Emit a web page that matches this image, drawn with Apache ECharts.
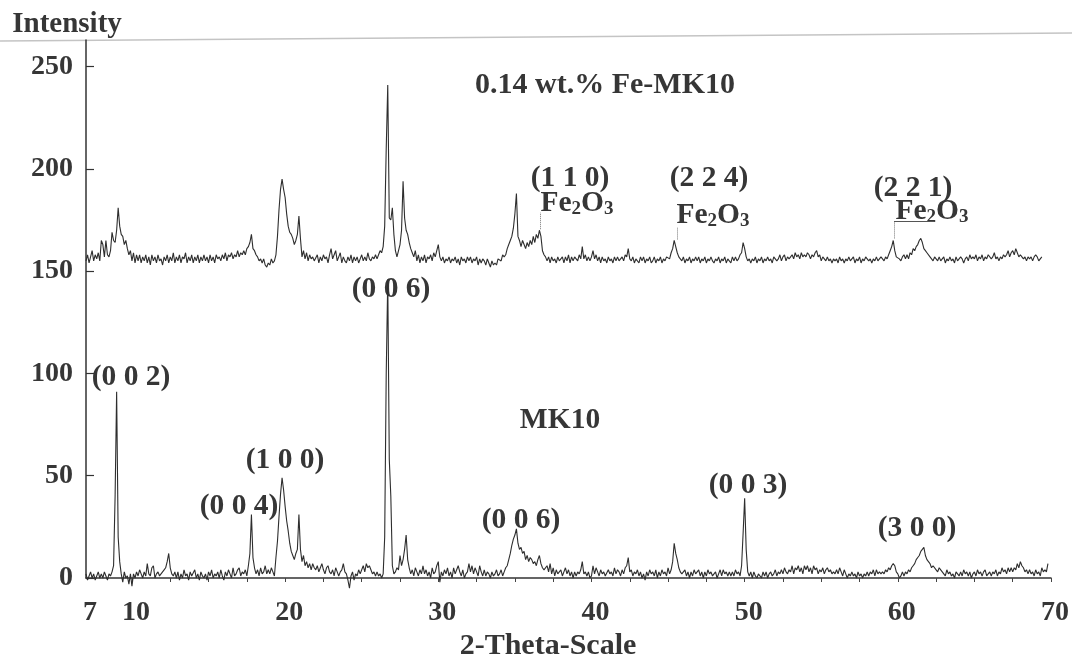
<!DOCTYPE html>
<html><head><meta charset="utf-8">
<script src="https://cdn.jsdelivr.net/npm/echarts@6/dist/echarts.min.js"></script>
<style>html,body{margin:0;padding:0;background:#fff}#c{width:1072px;height:661px}</style>
</head><body><div id="c"></div>
<script>
// 2-theta positions (degrees), one row per degree
const twoTheta = [
  7.0, 7.1, 7.2, 7.3, 7.4, 7.5, 7.6, 7.7, 7.8, 7.9,
  8.0, 8.1, 8.2, 8.3, 8.4, 8.5, 8.6, 8.7, 8.8, 8.9,
  9.0, 9.1, 9.2, 9.3, 9.4, 9.5, 9.6, 9.7, 9.8, 9.9,
  10.0, 10.1, 10.2, 10.3, 10.4, 10.5, 10.6, 10.7, 10.8, 10.9,
  11.0, 11.1, 11.2, 11.3, 11.4, 11.5, 11.6, 11.7, 11.8, 11.9,
  12.0, 12.1, 12.2, 12.3, 12.4, 12.5, 12.6, 12.7, 12.8, 12.9,
  13.0, 13.1, 13.2, 13.3, 13.4, 13.5, 13.6, 13.7, 13.8, 13.9,
  14.0, 14.1, 14.2, 14.3, 14.4, 14.5, 14.6, 14.7, 14.8, 14.9,
  15.0, 15.1, 15.2, 15.3, 15.4, 15.5, 15.6, 15.7, 15.8, 15.9,
  16.0, 16.1, 16.2, 16.3, 16.4, 16.5, 16.6, 16.7, 16.8, 16.9,
  17.0, 17.1, 17.2, 17.3, 17.4, 17.5, 17.6, 17.7, 17.8, 17.9,
  18.0, 18.1, 18.2, 18.3, 18.4, 18.5, 18.6, 18.7, 18.8, 18.9,
  19.0, 19.1, 19.2, 19.3, 19.4, 19.5, 19.6, 19.7, 19.8, 19.9,
  20.0, 20.1, 20.2, 20.3, 20.4, 20.5, 20.6, 20.7, 20.8, 20.9,
  21.0, 21.1, 21.2, 21.3, 21.4, 21.5, 21.6, 21.7, 21.8, 21.9,
  22.0, 22.1, 22.2, 22.3, 22.4, 22.5, 22.6, 22.7, 22.8, 22.9,
  23.0, 23.1, 23.2, 23.3, 23.4, 23.5, 23.6, 23.7, 23.8, 23.9,
  24.0, 24.1, 24.2, 24.3, 24.4, 24.5, 24.6, 24.7, 24.8, 24.9,
  25.0, 25.1, 25.2, 25.3, 25.4, 25.5, 25.6, 25.7, 25.8, 25.9,
  26.0, 26.1, 26.2, 26.3, 26.4, 26.5, 26.6, 26.7, 26.8, 26.9,
  27.0, 27.1, 27.2, 27.3, 27.4, 27.5, 27.6, 27.7, 27.8, 27.9,
  28.0, 28.1, 28.2, 28.3, 28.4, 28.5, 28.6, 28.7, 28.8, 28.9,
  29.0, 29.1, 29.2, 29.3, 29.4, 29.5, 29.6, 29.7, 29.8, 29.9,
  30.0, 30.1, 30.2, 30.3, 30.4, 30.5, 30.6, 30.7, 30.8, 30.9,
  31.0, 31.1, 31.2, 31.3, 31.4, 31.5, 31.6, 31.7, 31.8, 31.9,
  32.0, 32.1, 32.2, 32.3, 32.4, 32.5, 32.6, 32.7, 32.8, 32.9,
  33.0, 33.1, 33.2, 33.3, 33.4, 33.5, 33.6, 33.7, 33.8, 33.9,
  34.0, 34.1, 34.2, 34.3, 34.4, 34.5, 34.6, 34.7, 34.8, 34.9,
  35.0, 35.1, 35.2, 35.3, 35.4, 35.5, 35.6, 35.7, 35.8, 35.9,
  36.0, 36.1, 36.2, 36.3, 36.4, 36.5, 36.6, 36.7, 36.8, 36.9,
  37.0, 37.1, 37.2, 37.3, 37.4, 37.5, 37.6, 37.7, 37.8, 37.9,
  38.0, 38.1, 38.2, 38.3, 38.4, 38.5, 38.6, 38.7, 38.8, 38.9,
  39.0, 39.1, 39.2, 39.3, 39.4, 39.5, 39.6, 39.7, 39.8, 39.9,
  40.0, 40.1, 40.2, 40.3, 40.4, 40.5, 40.6, 40.7, 40.8, 40.9,
  41.0, 41.1, 41.2, 41.3, 41.4, 41.5, 41.6, 41.7, 41.8, 41.9,
  42.0, 42.1, 42.2, 42.3, 42.4, 42.5, 42.6, 42.7, 42.8, 42.9,
  43.0, 43.1, 43.2, 43.3, 43.4, 43.5, 43.6, 43.7, 43.8, 43.9,
  44.0, 44.1, 44.2, 44.3, 44.4, 44.5, 44.6, 44.7, 44.8, 44.9,
  45.0, 45.1, 45.2, 45.3, 45.4, 45.5, 45.6, 45.7, 45.8, 45.9,
  46.0, 46.1, 46.2, 46.3, 46.4, 46.5, 46.6, 46.7, 46.8, 46.9,
  47.0, 47.1, 47.2, 47.3, 47.4, 47.5, 47.6, 47.7, 47.8, 47.9,
  48.0, 48.1, 48.2, 48.3, 48.4, 48.5, 48.6, 48.7, 48.8, 48.9,
  49.0, 49.1, 49.2, 49.3, 49.4, 49.5, 49.6, 49.7, 49.8, 49.9,
  50.0, 50.1, 50.2, 50.3, 50.4, 50.5, 50.6, 50.7, 50.8, 50.9,
  51.0, 51.1, 51.2, 51.3, 51.4, 51.5, 51.6, 51.7, 51.8, 51.9,
  52.0, 52.1, 52.2, 52.3, 52.4, 52.5, 52.6, 52.7, 52.8, 52.9,
  53.0, 53.1, 53.2, 53.3, 53.4, 53.5, 53.6, 53.7, 53.8, 53.9,
  54.0, 54.1, 54.2, 54.3, 54.4, 54.5, 54.6, 54.7, 54.8, 54.9,
  55.0, 55.1, 55.2, 55.3, 55.4, 55.5, 55.6, 55.7, 55.8, 55.9,
  56.0, 56.1, 56.2, 56.3, 56.4, 56.5, 56.6, 56.7, 56.8, 56.9,
  57.0, 57.1, 57.2, 57.3, 57.4, 57.5, 57.6, 57.7, 57.8, 57.9,
  58.0, 58.1, 58.2, 58.3, 58.4, 58.5, 58.6, 58.7, 58.8, 58.9,
  59.0, 59.1, 59.2, 59.3, 59.4, 59.5, 59.6, 59.7, 59.8, 59.9,
  60.0, 60.1, 60.2, 60.3, 60.4, 60.5, 60.6, 60.7, 60.8, 60.9,
  61.0, 61.1, 61.2, 61.3, 61.4, 61.5, 61.6, 61.7, 61.8, 61.9,
  62.0, 62.1, 62.2, 62.3, 62.4, 62.5, 62.6, 62.7, 62.8, 62.9,
  63.0, 63.1, 63.2, 63.3, 63.4, 63.5, 63.6, 63.7, 63.8, 63.9,
  64.0, 64.1, 64.2, 64.3, 64.4, 64.5, 64.6, 64.7, 64.8, 64.9,
  65.0, 65.1, 65.2, 65.3, 65.4, 65.5, 65.6, 65.7, 65.8, 65.9,
  66.0, 66.1, 66.2, 66.3, 66.4, 66.5, 66.6, 66.7, 66.8, 66.9,
  67.0, 67.1, 67.2, 67.3, 67.4, 67.5, 67.6, 67.7, 67.8, 67.9,
  68.0, 68.1, 68.2, 68.3, 68.4, 68.5, 68.6, 68.7, 68.8, 68.9,
  69.0, 69.1, 69.2, 69.3, 69.4, 69.5, 69.6, 69.7, 69.8
];
// MK10 intensity, one row per degree
const mk10 = [
  2, -1, 1, 3, 0, 2, -1, 1, 3, 0,
  2, 0, 3, 1, -1, 2, 1, 3, 6, 40,
  91, 20, 8, 2, -2, 3, 0, 1, -3, 2,
  -4, 2, 0, 3, 1, 4, 2, 0, 3, 1,
  7, 2, 1, 5, 6, 0, 2, 3, 1, 2,
  2, 4, 5, 8, 12, 5, 2, 1, 3, 0,
  3, -1, 2, 0, 4, 1, 2, -1, 3, 1,
  1, 4, 0, 2, -1, 3, 1, 0, 2, -1,
  3, 1, 4, 0, 2, 1, 3, 0, 4, 1,
  -1, 3, 1, 4, 2, 0, 5, 1, 2, 4,
  5, 1, 3, 2, 4, 1, 6, 12, 31, 10,
  5, 2, 4, 1, 5, 2, 3, 6, 2, 4,
  2, 5, 3, 1, 10, 18, 30, 41, 49, 43,
  35, 28, 23, 17, 13, 11, 9, 12, 14, 31,
  14, 8, 11, 6, 8, 5, 7, 4, 7, 5,
  4, 6, 3, 5, 7, 4, 2, 5, 6, 3,
  2, 4, 1, 5, 3, 1, 3, 4, 7, 3,
  2, -1, -5, 1, 3, -1, 2, 1, 4, 2,
  4, 6, 3, 7, 5, 6, 4, 2, 3, 1,
  3, 1, 2, 0, 2, 20, 100, 146, 58, 40,
  6, 2, 3, 5, 4, 11, 6, 9, 14, 21,
  9, 5, 2, 4, 1, 5, 3, 1, 4, 2,
  6, 2, 4, 1, 3, 0, 5, 2, 3, 6,
  8, -2, 3, 1, 4, 2, 5, 1, 3, 0,
  5, 2, 4, 6, 3, 1, 4, 0, 2, 3,
  7, 3, 6, 2, 5, 3, 1, 6, 3, 1,
  4, 1, 3, 2, 0, 3, 1, 2, 4, 1,
  2, 4, 1, 3, 5, 6, 9, 12, 16, 19,
  21, 24, 17, 14, 15, 12, 13, 9, 11, 8,
  10, 9, 7, 8, 6, 9, 11, 7, 5, 4,
  4, 6, 3, 7, 2, 5, 1, 4, 2, 3,
  4, 1, 3, 5, 2, 4, 1, 3, 0, 3,
  1, 3, 2, 4, 8, 2, 3, 1, 3, 0,
  1, 6, 2, 5, 3, 1, 4, 2, 3, 1,
  1, 4, 2, 3, 1, 5, 2, 4, 3, 1,
  4, 2, 5, 6, 10, 3, 4, 1, 3, 2,
  4, 1, 3, 0, 2, -1, 3, 1, 4, 2,
  3, 1, 4, 0, 3, 1, 4, 2, 3, 1,
  5, 2, 4, 8, 17, 12, 9, 5, 3, 2,
  2, 4, 1, 3, 0, 3, 1, 4, 2, 3,
  4, 1, 3, 0, 3, 1, 4, 2, 3, 1,
  1, 3, 0, 2, 4, 1, 4, 2, 3, 1,
  3, 1, 3, 1, 4, 2, 3, 1, 6, 22,
  39, 14, 3, 1, 3, 0, 3, 1, 0, 2,
  2, 0, 3, 1, 3, 0, 2, 3, 1, 2,
  4, 1, 3, 2, 4, 2, 5, 3, 2, 4,
  3, 6, 2, 5, 4, 6, 3, 5, 2, 6,
  4, 6, 3, 5, 2, 6, 4, 5, 2, 4,
  3, 5, 2, 4, 5, 3, 4, 2, 3, 2,
  4, 2, 5, 3, 1, 4, 2, 0, 2, 1,
  3, 1, 2, 0, 3, 1, 2, 0, 2, 1,
  3, 1, 3, 2, 4, 1, 4, 2, 3, 2,
  3, 2, 4, 3, 5, 4, 6, 7, 6, 3,
  2, 0, 1, 3, 1, 3, 2, 4, 3, 5,
  6, 7, 9, 10, 11, 13, 14, 15, 11, 9,
  8, 7, 5, 6, 6, 4, 3, 5, 4, 3,
  3, 1, 4, 2, 3, 1, 2, 0, 3, 2,
  1, 3, 1, 4, 2, 3, 1, 3, 0, 2,
  3, 1, 4, 2, 3, 1, 3, 4, 1, 2,
  3, 1, 3, 2, 4, 1, 3, 2, 5, 3,
  4, 2, 5, 3, 5, 3, 5, 4, 7, 5,
  8, 6, 5, 3, 4, 2, 4, 2, 3, 1,
  4, 2, 3, 1, 5, 3, 4, 3, 7
];
// 0.14 wt.% Fe-MK10 intensity (offset trace as plotted), one row per degree
const feMk10 = [
  155, 158, 154, 157, 160, 155, 158, 156, 159, 155,
  165, 163, 157, 165, 158, 157, 160, 169, 165, 164,
  170, 181, 172, 168, 167, 163, 165, 161, 158, 160,
  155, 159, 154, 158, 155, 158, 154, 157, 155, 158,
  154, 157, 153, 158, 155, 157, 154, 158, 155, 156,
  153, 157, 155, 158, 154, 157, 155, 159, 154, 157,
  155, 158, 154, 157, 156, 159, 154, 157, 155, 158,
  154, 157, 155, 158, 154, 157, 155, 158, 155, 157,
  154, 158, 155, 157, 154, 158, 156, 157, 155, 158,
  156, 159, 155, 158, 157, 159, 156, 158, 157, 160,
  157, 159, 158, 160, 158, 161, 162, 164, 168, 161,
  160, 158, 157, 155, 156, 154, 156, 153, 152, 154,
  153, 156, 154, 155, 158, 167, 180, 190, 195, 190,
  186, 178, 172, 169, 168, 166, 163, 165, 168, 177,
  166, 157, 160, 156, 159, 155, 158, 156, 157, 155,
  155, 158, 154, 157, 155, 158, 156, 157, 154, 158,
  161, 156, 158, 160, 155, 157, 159, 154, 157, 155,
  154, 157, 155, 158, 154, 157, 155, 157, 154, 156,
  158, 155, 157, 155, 159, 156, 155, 157, 156, 158,
  156, 158, 160, 159, 162, 172, 210, 241, 176, 175,
  181, 168, 160, 157, 157, 163, 170, 194, 176, 170,
  168, 164, 161, 159, 157, 160, 155, 158, 154, 157,
  155, 158, 154, 157, 156, 158, 155, 159, 157, 160,
  163, 157, 155, 157, 154, 156, 155, 157, 154, 156,
  155, 157, 154, 156, 153, 157, 155, 156, 154, 157,
  155, 157, 154, 156, 155, 157, 153, 156, 154, 156,
  155, 153, 156, 154, 152, 155, 153, 154, 153, 156,
  156, 155, 158, 157, 158, 161, 163, 165, 167, 171,
  178, 188, 167, 165, 162, 165, 163, 161, 164, 162,
  165, 163, 167, 164, 168, 166, 170, 167, 160, 158,
  157, 155, 157, 154, 157, 155, 156, 154, 157, 155,
  155, 157, 154, 157, 155, 158, 154, 157, 155, 157,
  157, 155, 158, 156, 162, 156, 158, 155, 157, 155,
  157, 160, 156, 158, 155, 157, 154, 157, 155, 156,
  154, 157, 155, 156, 154, 157, 155, 157, 155, 156,
  157, 155, 158, 157, 161, 156, 155, 157, 154, 156,
  156, 154, 157, 155, 157, 154, 156, 155, 157, 154,
  155, 157, 154, 156, 155, 157, 154, 156, 155, 157,
  157, 156, 159, 161, 165, 162, 159, 157, 156, 155,
  157, 154, 156, 155, 157, 154, 156, 155, 157, 155,
  157, 154, 156, 155, 157, 154, 156, 155, 157, 155,
  154, 156, 155, 157, 154, 156, 155, 157, 154, 156,
  156, 154, 157, 155, 157, 155, 156, 158, 159, 164,
  161, 157, 155, 156, 154, 156, 155, 157, 154, 156,
  155, 157, 154, 156, 155, 157, 155, 156, 154, 157,
  157, 155, 156, 158, 155, 157, 158, 155, 157, 156,
  157, 158, 156, 159, 157, 158, 156, 159, 157, 158,
  157, 159, 158, 156, 158, 157, 159, 160, 157, 158,
  155, 157, 156, 155, 157, 155, 156, 154, 156, 155,
  156, 154, 157, 155, 156, 154, 156, 155, 157, 155,
  155, 157, 154, 156, 155, 157, 154, 156, 155, 157,
  157, 155, 156, 154, 156, 155, 157, 155, 156, 157,
  156, 155, 157, 156, 158, 160, 162, 165, 160, 157,
  157, 156, 155, 157, 158, 156, 158, 156, 159, 158,
  161, 160, 162, 163, 165, 166, 164, 161, 160, 159,
  159, 157, 156, 155, 157, 156, 155, 157, 155, 156,
  157, 154, 156, 155, 157, 155, 156, 154, 157, 155,
  155, 157, 156, 154, 156, 157, 155, 158, 156, 157,
  156, 158, 155, 157, 156, 158, 155, 157, 156, 158,
  158, 156, 157, 159, 156, 157, 155, 157, 156, 158,
  157, 158, 160, 157, 159, 160, 158, 161, 159, 157,
  158, 157, 156, 157, 155, 157, 156, 157, 155, 157,
  158, 157, 155, 156, 157, null, null, null, null
];
const xTickLabels = [7, 10, 20, 30, 40, 50, 60, 70];
const xTicks = [10, 12.5, 15, 17.5, 20, 22.5, 25, 27.5, 30, 32.5, 35, 37.5, 40, 42.5, 45, 47.5, 50, 52.5, 55, 57.5, 60, 62.5, 65, 67.5, 70];
const yTickLabels = [0, 50, 100, 150, 200, 250];
// leader lines of the Fe2O3 annotations, in data units [x1, y1, x2, y2]
const leaders = [
  [59.75, 166, 59.75, 174.2],
  [59.75, 174.2, 62.4, 174.2],
  [36.63, 170.5, 36.63, 178.5],
  [45.58, 165.5, 45.58, 171.5]
];

const FONT = '"Liberation Serif", "DejaVu Serif", "Times New Roman", serif';
const INK = '#363636';
const chart = echarts.init(document.getElementById('c'), null, {renderer: 'canvas'});

function txt(text, x, y, size) {
  return {
    type: 'text', x: x, y: y, silent: true,
    style: {
      text: text, fontFamily: FONT, fontWeight: 'bold', fontSize: size || 29.5,
      fill: INK, align: 'center', verticalAlign: 'middle'
    }
  };
}
function feTxt(x, y) {
  const base = {fontFamily: FONT, fontWeight: 'bold', fill: INK};
  return {
    type: 'text', x: x, y: y, silent: true,
    style: Object.assign({}, base, {
      text: '{n|Fe}{s|2}{n|O}{s|3}', fontSize: 29.5, align: 'center', verticalAlign: 'middle',
      rich: {
        n: Object.assign({}, base, {fontSize: 29.5, lineHeight: 31, verticalAlign: 'bottom'}),
        s: Object.assign({}, base, {fontSize: 19, lineHeight: 14, verticalAlign: 'bottom'})
      }
    })
  };
}

const option = {
  animation: false,
  backgroundColor: '#ffffff',
  grid: {left: 86, right: 21, top: 40, bottom: 83, containLabel: false},
  xAxis: {
    type: 'value', min: 7, max: 70,
    axisLine: {show: true, onZero: true, lineStyle: {color: '#333', width: 1.5}},
    axisTick: {show: true, customValues: xTicks, length: 4, inside: false, lineStyle: {color: '#444', width: 1}},
    axisLabel: {
      customValues: xTickLabels, margin: 21, padding: [0, 0, 0, 8],
      fontFamily: FONT, fontWeight: 'bold', fontSize: 28, color: INK
    },
    splitLine: {show: false}
  },
  yAxis: {
    type: 'value', min: 0, max: 263,
    axisLine: {show: true, lineStyle: {color: '#333', width: 1.5}},
    axisTick: {show: true, customValues: yTickLabels, inside: true, length: 8, lineStyle: {color: '#333', width: 1.2}},
    axisLabel: {
      customValues: yTickLabels, margin: 13,
      fontFamily: FONT, fontWeight: 'bold', fontSize: 28, color: INK
    },
    splitLine: {show: false}
  },
  series: [
    {
      name: 'MK10', type: 'line', showSymbol: false, clip: false,
      lineStyle: {color: '#2e2e2e', width: 1.1},
      data: twoTheta.map((t, i) => [t, mk10[i]])
    },
    {
      name: '0.14 wt.% Fe-MK10', type: 'line', showSymbol: false, clip: false, connectNulls: false,
      lineStyle: {color: '#2e2e2e', width: 1.1},
      data: twoTheta.map((t, i) => [t, feMk10[i]]),
      markLine: {
        silent: true, symbol: 'none', animation: false, label: {show: false},
        lineStyle: {color: '#777', width: 1, type: 'dotted'},
        data: leaders.map((l, k) => [
          {coord: [l[0], l[1]], lineStyle: k === 1 ? {type: 'solid', color: '#555', width: 1.2} : undefined},
          {coord: [l[2], l[3]]}
        ])
      }
    }
  ],
  graphic: [
    {type: 'line', silent: true, shape: {x1: 0, y1: 41, x2: 1072, y2: 33}, style: {stroke: '#c4c4c4', lineWidth: 1.5}},
    txt('Intensity', 67, 25, 29),
    txt('0.14 wt.% Fe-MK10', 605, 85, 30),
    txt('MK10', 560, 420, 29.5),
    txt('2-Theta-Scale', 548, 646, 30),
    txt('(0 0 2)', 131, 377),
    txt('(0 0 4)', 239, 506),
    txt('(1 0 0)', 285, 460),
    txt('(0 0 6)', 391, 289),
    txt('(0 0 6)', 521, 520),
    txt('(0 0 3)', 748, 485),
    txt('(3 0 0)', 917, 528),
    txt('(1 1 0)', 570, 178),
    feTxt(577, 203),
    txt('(2 2 4)', 709, 178),
    feTxt(713, 215),
    txt('(2 2 1)', 913, 188),
    feTxt(932, 211)
  ]
};
chart.setOption(option);
</script>
</body></html>
